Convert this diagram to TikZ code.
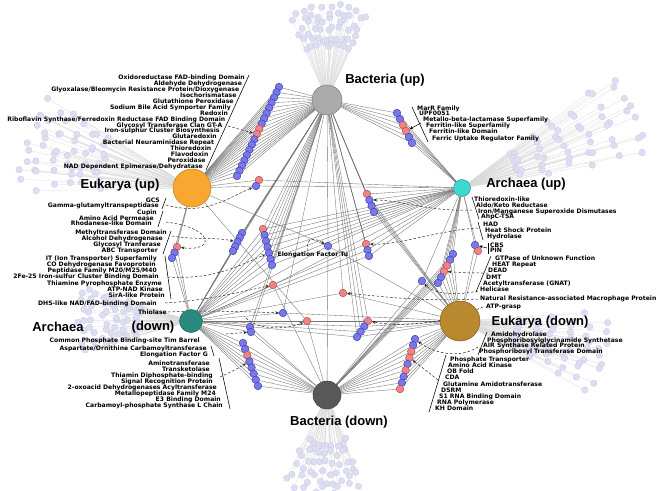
\documentclass[tikz,border=0pt]{standalone}
\usepackage{fontspec}
\setmainfont{Liberation Sans}
\newfontfamily\lblfont{DejaVu Sans}
\usetikzlibrary{calc,arrows.meta}
\pgfdeclarelayer{bg}\pgfdeclarelayer{mid}\pgfdeclarelayer{arr}
\pgfsetlayers{bg,mid,arr,main}
\definecolor{nblue}{HTML}{7878EB}
\definecolor{nblueD}{HTML}{3C3CA0}
\definecolor{nred}{HTML}{F08484}
\definecolor{nredD}{HTML}{B04848}
\definecolor{fanfill}{HTML}{DEDEF3}
\definecolor{fandraw}{HTML}{C8C8E4}
\definecolor{cBU}{HTML}{ABABAB}
\definecolor{cBD}{HTML}{585858}
\definecolor{cEU}{HTML}{F8A830}
\definecolor{cAU}{HTML}{3DD9D0}
\definecolor{cAD}{HTML}{2A8A80}
\definecolor{cED}{HTML}{B8892E}
\newcommand\mkchain[5]{\foreach \cc [count=\ii] in {#5}{\pgfmathsetmacro\tpos{(\ii-1)/(#4-1)}\node[\cc] (#1\ii) at ($#2!\tpos!#3$) {};}}
\newcommand\linkchain[3]{\foreach \hh in {#3}{\foreach \ii in {1,...,#2}{\draw[hl] (\hh) -- (#1\ii);}}}
\newcommand\mkfan[7]{\foreach \kk in {0,...,5}{\foreach \jj in {-4,...,4}{%
  \pgfmathsetmacro\frr{#6+\kk*(#7-#6)/5+4*rand}%
  \pgfmathsetmacro\faa{#4+\jj*#5/4+2*rand+mod(\kk,2)*#5/8}%
  \pgfmathsetmacro\ffx{#2+\frr*cos(\faa)}%
  \pgfmathsetmacro\ffy{#3+\frr*sin(\faa)}%
  \node[fn] (f#1-\kk-\jj) at (\ffx,\ffy) {};}}}
\newcommand\fanlinks[1]{\foreach \kk in {0,...,5}{\foreach \jj in {-4,...,4}{\draw[fl] (#1) -- (f#1-\kk-\jj);}}}
\begin{document}
\begin{tikzpicture}[x=1pt,y=-1pt,
  lbl/.style={font=\lblfont\bfseries\fontsize{6.1}{6}\selectfont, inner sep=0, text height=4.4pt, text depth=1.2pt},
  lr/.style={lbl, anchor=east}, ll/.style={lbl, anchor=west},
  big/.style={font=\bfseries\fontsize{13}{14}\selectfont, inner sep=0},
  hl/.style={draw=black!55, line width=0.35pt},
  fl/.style={draw=black!15, line width=0.25pt},
  fn/.style={circle, fill=fanfill, draw=fandraw, line width=0.3pt, minimum size=6.5pt, inner sep=0},
  bn/.style={circle, fill=nblue, draw=nblueD, line width=0.45pt, minimum size=7.6pt, inner sep=0},
  rn/.style={circle, fill=nred, draw=nredD, line width=0.45pt, minimum size=7.6pt, inner sep=0},
  hub/.style={circle, inner sep=0, line width=0.5pt},
  darr/.style={draw=black!85, line width=0.5pt, dash pattern=on 2.5pt off 2pt, -{Stealth[length=3.5pt,width=3pt]}},
  sarr/.style={draw=black, line width=0.5pt, -{Stealth[length=3.5pt,width=3pt]}},
  brk/.style={draw=black, line width=0.55pt}]
\useasboundingbox (0,0) rectangle (661,490);
\pgfmathsetseed{7}
% hubs
\node[hub, fill=cBU, draw=cBU!70!black, minimum size=30pt] (BU) at (327,100) {};
\node[hub, fill=cBD, draw=cBD!70!black, minimum size=28pt] (BD) at (327,395) {};
\node[hub, fill=cEU, draw=cEU!75!black, minimum size=38pt] (EU) at (192,188) {};
\node[hub, fill=cAU, draw=cAU!70!black, minimum size=17pt] (AU) at (462,188) {};
\node[hub, fill=cAD, draw=cAD!70!black, minimum size=23pt] (AD) at (191,321) {};
\node[hub, fill=cED, draw=cED!70!black, minimum size=40pt] (ED) at (460,321) {};
% hub labels
\node[big] (labBU) at (385,80) {Bacteria (up)};
\node[big] (labBD) at (339,422) {Bacteria (down)};
\node[big] (labEU) at (120,185) {Eukarya (up)};
\node[big] (labAU) at (526,184) {Archaea (up)};
\node[big] (labAD1) at (58,327) {Archaea};
\node[big] (labAD2) at (153,327) {(down)};
\node[big] (labED) at (540,322) {Eukarya (down)};
% fans
\begin{pgfonlayer}{mid}
\mkfan{BU}{327}{100}{270}{22}{55}{95}
\mkfan{BD}{327}{395}{90}{22}{50}{95}
\mkfan{EU}{192}{188}{195}{14}{95}{170}
\mkfan{AU}{462}{188}{335}{12}{60}{185}
\mkfan{AD}{191}{321}{180}{16}{55}{110}
\mkfan{ED}{460}{321}{12}{14}{60}{145}
\end{pgfonlayer}
% chains
\mkchain{A}{(279,87)}{(237,176)}{18}{bn,bn,bn,bn,bn,bn,bn,bn,rn,rn,bn,bn,bn,bn,bn,bn,bn,bn}
\mkchain{B}{(397,113)}{(412,143)}{6}{bn,bn,rn,rn,bn,bn}
\mkchain{C}{(259,180)}{(256,186)}{2}{rn,bn}
\mkchain{D}{(367,194)}{(374,212)}{4}{rn,bn,bn,bn}
\mkchain{E}{(328,246)}{(328,246)}{2}{bn}
\mkchain{F}{(366,244)}{(369,256)}{3}{rn,bn,bn}
\mkchain{G}{(475,245)}{(478,251)}{2}{bn,rn}
\mkchain{H}{(453,254)}{(438,283)}{6}{bn,bn,rn,rn,bn,bn}
\mkchain{I}{(422,281)}{(422,281)}{2}{bn}
\mkchain{J}{(343,293)}{(343,293)}{2}{rn}
\mkchain{K}{(368,321)}{(357,337)}{4}{rn,bn,bn,bn}
\mkchain{L}{(415,339)}{(400,389)}{9}{bn,bn,rn,rn,bn,rn,bn,bn,rn}
\mkchain{M}{(250,327)}{(251,332)}{2}{bn,bn}
\mkchain{N}{(243,343)}{(258,386)}{8}{bn,bn,rn,bn,bn,bn,bn,bn}
\mkchain{O}{(242,233)}{(233,251)}{5}{bn,bn,bn,bn,bn}
\mkchain{P}{(263,229)}{(272,265)}{7}{rn,bn,bn,bn,bn,bn,bn}
\mkchain{Q}{(177,247)}{(172,258)}{3}{rn,bn,bn}
\mkchain{R}{(273,285)}{(273,285)}{2}{rn}
\mkchain{S}{(283,313)}{(283,313)}{2}{bn}
\mkchain{T}{(307,321)}{(307,321)}{2}{rn}
% links
\begin{pgfonlayer}{bg}
\fill[white] (0,0) rectangle (661,490);
\fanlinks{BU}\fanlinks{BD}\fanlinks{EU}\fanlinks{AU}\fanlinks{AD}\fanlinks{ED}
\linkchain{A}{18}{EU,BU}
\linkchain{B}{6}{BU,AU}
\linkchain{C}{2}{EU,AU}
\linkchain{D}{4}{BU,AU,ED}
\linkchain{E}{1}{BU,AU,AD,ED,BD,EU}
\linkchain{F}{3}{BU,AU,AD}
\linkchain{G}{2}{AU,ED}
\linkchain{H}{6}{AU,ED,BD}
\linkchain{I}{1}{AU,ED,BD}
\linkchain{J}{1}{BU,ED,AD}
\linkchain{K}{4}{BU,ED,AD}
\linkchain{L}{9}{ED,BD}
\linkchain{M}{2}{AD,BU,BD}
\linkchain{N}{8}{AD,BD}
\linkchain{O}{5}{AD,BU}
\linkchain{P}{7}{BU,AD,AU}
\linkchain{Q}{3}{EU,AD}
\linkchain{R}{1}{AD,AU,BD}
\linkchain{S}{1}{AD,ED,BU}
\linkchain{T}{1}{AD,BD,EU}
\end{pgfonlayer}
% top-left labels
\foreach \ltext [count=\i] in {Oxidoreductase FAD-binding Domain, Aldehyde Dehydrogenase, Glyoxalase/Bleomycin Resistance Protein/Dioxygenase, Isochorismatase, Glutathione Peroxidase, Sodium Bile Acid Symporter Family, Redoxin, Riboflavin Synthase/Ferredoxin Reductase FAD Binding Domain, Glycosyl Transferase Clan GT-A, Iron-sulphur Cluster Biosynthesis, Glutaredoxin, Bacterial Neuraminidase Repeat, Thioredoxin, Flavodoxin, Peroxidase, NAD Dependent Epimerase/Dehydratase}
  \node[lr] (tl\i) at ({245-(\i-1)*2.8},{78+(\i-1)*5.93}) {\ltext};
\draw[brk] (249,75) -- (206,170);
% left labels
\node[lr] (gcs1) at (160,201) {GCS};
\node[lr] (gcs2) at (159,206) {Gamma-glutamyltranspeptidase};
\draw[brk] (166,198) -- (162,209);
\node[lr] (cu1) at (157,213) {Cupin};
\node[lr] (cu2) at (154,219) {Amino Acid Permease};
\node[lr] (cu3) at (152,224) {Rhodanese-like Domain};
\draw[brk] (163,211) -- (158,227);
\node[lr] (me1) at (167,233) {Methyltransferase Domain};
\node[lr] (me2) at (163,239) {Alcohol Dehydrogenase};
\node[lr] (me3) at (161,245) {Glycosyl Tranferase};
\node[lr] (me4) at (158,251) {ABC Transporter};
\draw[brk] (171,231) -- (163,254);
\node[lr] (it1) at (157,259) {IT (Ion Transporter) Superfamily};
\node[lr] (it2) at (156,265) {CO Dehydrogenase Favoprotein};
\node[lr] (it3) at (157,271) {Peptidase Family M20/M25/M40};
\node[lr] (it4) at (159,277) {2Fe-2S Iron-sulfur Cluster Binding Domain};
\node[lr] (it5) at (162,284) {Thiamine Pyrophosphate Enzyme};
\node[lr] (it6) at (163,290) {ATP-NAD Kinase};
\node[lr] (it7) at (165,296) {SirA-like Protein};
\draw[brk] (165,256) -- (171,299);
\node[lr] (dhs) at (157,304) {DHS-like NAD/FAD-binding Domain};
\node[lr] (thl) at (167,313) {Thiolase};
\node[lr] (cpb) at (200,341) {Common Phosphate Binding-site Tim Barrel};
\node[lr] (aso) at (207,349) {Aspartate/Ornithine Carbamoyltransferase};
\node[lr] (efg) at (208,355) {Elongation Factor G};
\draw[brk] (211,346) -- (214,356);
\node[lr] (am1) at (210,364) {Aminotransferase};
\node[lr] (am2) at (210,370) {Transketolase};
\node[lr] (am3) at (213,376) {Thiamin Diphosphate-binding};
\node[lr] (am4) at (213,382) {Signal Recognition Protein};
\node[lr] (am5) at (217,388) {2-oxoacid Dehydrogenases Acyltransferase};
\node[lr] (am6) at (216,394) {Metallopeptidase Family M24};
\node[lr] (am7) at (221,400) {E3 Binding Domain};
\node[lr] (am8) at (223,406) {Carbamoyl-phosphate Synthase L Chain};
\draw[brk] (219,358) -- (230,409);
% right labels
\node[ll] (mr1) at (417,109) {MarR Family};
\node[ll] (mr2) at (419,114) {UPF0051};
\node[ll] (mr3) at (423,120) {Metallo-beta-lactamase Superfamily};
\node[ll] (mr4) at (426,126) {Ferritin-like Superfamily};
\node[ll] (mr5) at (429,132) {Ferritin-like Domain};
\node[ll] (mr6) at (432,139) {Ferric Uptake Regulator Family};
\draw[brk] (412,107) -- (428,142);
\node[ll] (th1) at (474,200) {Thioredoxin-like};
\node[ll] (th2) at (476,206) {Aldo/Keto Reductase};
\node[ll] (th3) at (478,212) {Iron/Manganese Superoxide Dismutases};
\node[ll] (th4) at (481,217) {AhpC-TSA};
\draw[brk] (472,197) -- (479,219);
\node[ll] (had1) at (483,225) {HAD};
\node[ll] (had2) at (485,231) {Heat Shock Protein};
\node[ll] (had3) at (487,237) {Hydrolase};
\draw[brk] (478,222) -- (483,240);
\node[ll] (cbs) at (490,246) {CBS};
\node[ll] (pin) at (490,251) {PIN};
\draw[brk] (488,243) -- (488,254);
\node[ll] (gt1) at (495,259) {GTPase of Unknown Function};
\node[ll] (gt2) at (492,265) {HEAT Repeat};
\node[ll] (gt3) at (488,271) {DEAD};
\node[ll] (gt4) at (486,278) {DMT};
\node[ll] (gt5) at (483,284) {Acetyltransferase (GNAT)};
\node[ll] (gt6) at (480,290) {Helicase};
\draw[brk] (491,256) -- (476,292);
\node[ll] (nra) at (480,299) {Natural Resistance-associated Macrophage Protein};
\node[ll] (atp) at (486,307) {ATP-grasp};
\node[ll] (ad1) at (491,335) {Amidohydrolase};
\node[ll] (ad2) at (487,341) {Phosphoribosylglycinamide Synthetase};
\node[ll] (ad3) at (483,346) {AIR Synthase Related Protein};
\node[ll] (ad4) at (479,352) {Phosphoribosyl Transferase Domain};
\draw[brk] (487,332) -- (478,355);
\node[ll] (ph1) at (450,360) {Phosphate Transporter};
\node[ll] (ph2) at (448,366) {Amino Acid Kinase};
\node[ll] (ph3) at (447,372) {OB Fold};
\node[ll] (ph4) at (445,378) {CDA};
\node[ll] (ph5) at (443,385) {Glutamine Amidotransferase};
\node[ll] (ph6) at (441,391) {DSRM};
\node[ll] (ph7) at (439,397) {S1 RNA Binding Domain};
\node[ll] (ph8) at (437,403) {RNA Polymerase};
\node[ll] (ph9) at (435,409) {KH Domain};
\draw[brk] (446,355) -- (429,412);
\node[lbl, anchor=center] (eftu) at (313,255) {Elongation Factor Tu};
% arrow start points
\coordinate (d1s) at (228,126);
\coordinate (d2s) at (166,205);
\coordinate (d3s) at (166,222);
\coordinate (d4s) at (172,236);
\coordinate (d5s) at (168,277);
\coordinate (d6s) at (165,303);
\coordinate (d7s) at (168,312);
\coordinate (d8s) at (246,318);
\coordinate (d9s) at (226,334);
\coordinate (d10s) at (220,377);
\coordinate (s1s) at (421,123);
\coordinate (d11s) at (472,210);
\coordinate (d12s) at (478,228);
\coordinate (s2s) at (487,248);
\coordinate (d13s) at (488,273);
\coordinate (d14s) at (478,291);
\coordinate (d15s) at (478,299);
\coordinate (d16s) at (483,307);
\coordinate (d17s) at (478,347);
\coordinate (d18s) at (438,380);
\coordinate (d19s) at (308,251);
\begin{pgfonlayer}{arr}
\draw[darr] (d1s) -- (A10);
\draw[darr] (d2s) .. controls (205,216) and (228,198) .. (C2);
\draw[darr] (d3s) .. controls (215,228) and (215,252) .. (Q1);
\draw[darr] (d4s) .. controls (195,240) and (215,237) .. (O3);
\draw[darr] (d5s) .. controls (215,280) and (240,265) .. (P5);
\draw[darr] (d6s) .. controls (210,300) and (240,292) .. (R1);
\draw[darr] (d7s) .. controls (210,310) and (250,312) .. (S1);
\draw[darr] (d8s) .. controls (258,330) and (285,330) .. (T1);
\draw[darr] (d9s) -- (M2);
\draw[darr] (d10s) .. controls (235,370) .. (N4);
\draw[sarr] (s1s) -- (B4);
\draw[darr] (d11s) .. controls (430,212) and (400,200) .. (D2);
\draw[darr] (d12s) .. controls (440,230) and (400,245) .. (F1);
\draw[sarr] (s2s) -- (G1);
\draw[darr] (d13s) .. controls (470,273) .. (H4);
\draw[darr] (d14s) .. controls (450,297) and (432,292) .. (I1);
\draw[darr] (d15s) .. controls (420,302) and (380,296) .. (J1);
\draw[darr] (d16s) .. controls (440,325) and (400,327) .. (K1);
\draw[darr] (d17s) .. controls (458,360) and (432,352) .. (L1);
\draw[darr] (d18s) .. controls (428,372) .. (L4);
\draw[darr] (d19s) .. controls (305,236) and (315,238) .. (E1);
\end{pgfonlayer}
\end{tikzpicture}
\end{document}
